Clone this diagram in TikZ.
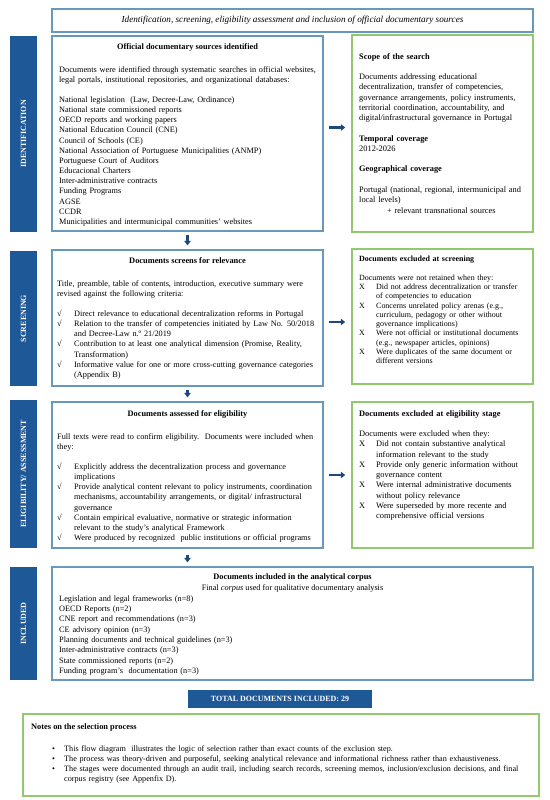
\documentclass[tikz,border=0pt]{standalone}
\usepackage{fontspec}
\setmainfont{Liberation Serif}
\usetikzlibrary{arrows.meta}

\definecolor{barblue}{RGB}{31,88,150}
\definecolor{boxblue}{RGB}{104,152,186}
\definecolor{boxgreen}{RGB}{146,200,110}
\definecolor{arrowblue}{RGB}{31,72,122}

\newcommand{\okmark}{\makebox[17bp][l]{√}}
\newcommand{\nomark}{\makebox[17bp][l]{X}}
\newcommand{\dotmark}{\makebox[12bp][l]{•}}
\newcommand{\hangin}{\hspace*{17bp}}

\tikzset{
  stagebar/.style={fill=barblue, text=white, rotate=90, inner sep=0pt,
    font=\fontsize{8}{9}\selectfont\bfseries},
  mainbox/.style={draw=boxblue, line width=1.3bp, inner sep=0pt},
  sidebox/.style={draw=boxgreen, line width=1.5bp, inner sep=0pt},
  boxhead/.style={inner sep=0pt, font=\fontsize{8.4}{10.2}\selectfont\bfseries},
  boxtext/.style={inner sep=0pt, anchor=north west, align=left, text width=#1,
    font=\fontsize{8.3}{10.2}\selectfont},
  flow/.style={draw=arrowblue, line width=2.2bp,
    -{Triangle[length=4.5bp,width=6.5bp]}},
}

\begin{document}
\begin{tikzpicture}[x=1bp, y=-1bp]
\useasboundingbox (0,0) rectangle (550,800);

\node[mainbox, minimum width=481bp, minimum height=23bp,
  font=\fontsize{9.2}{11}\selectfont\itshape] (title) at (292.5,20.5)
  {Identification, screening, eligibility assessment and inclusion of official documentary sources};

\node[stagebar, minimum width=196bp, minimum height=27bp] (identbar) at (23.5,134) {IDENTIFICATION};
\node[stagebar, minimum width=135bp, minimum height=27bp] (screenbar) at (23.5,318.5) {SCREENING};
\node[stagebar, minimum width=148bp, minimum height=27bp] (eligbar) at (23.5,474) {ELIGIBILITY/ ASSESSMENT};
\node[stagebar, minimum width=113bp, minimum height=27bp] (inclbar) at (23.5,623.5) {INCLUDED};

\node[mainbox, minimum width=271bp, minimum height=195bp] (ident) at (187.5,133.5) {};
\node[mainbox, minimum width=271bp, minimum height=136bp] (screen) at (187.5,318) {};
\node[mainbox, minimum width=271bp, minimum height=146bp] (elig) at (187.5,475) {};
\node[mainbox, minimum width=481bp, minimum height=113bp] (incl) at (292.5,623.5) {};

\node[sidebox, minimum width=181bp, minimum height=197bp] (scope) at (442.5,133.5) {};
\node[sidebox, minimum width=181bp, minimum height=135bp] (screenout) at (442.5,316.5) {};
\node[sidebox, minimum width=181bp, minimum height=146bp] (eligout) at (442.5,475) {};

\node[fill=barblue, text=white, minimum width=184bp, minimum height=17.5bp, inner sep=0pt,
  font=\fontsize{8}{9}\selectfont\bfseries] (total) at (280,699) {TOTAL DOCUMENTS INCLUDED: 29};
\node[sidebox, minimum width=516bp, minimum height=82bp] (notes) at (281,755) {};

\node[boxhead] (identhead) at (187.5,47) {Official documentary sources identified};
\node[boxtext=300bp] (identlist) at (59,66) {%
Documents were identified through systematic searches in official websites,\\
legal portals, institutional repositories, and organizational databases:\\[10.2pt]
National legislation\ \ (Law, Decree-Law, Ordinance)\\
National state commissioned\ reports\\
OECD reports and working papers\\
National Education Council (CNE)\\
Council of Schools (CE)\\
National Association of Portuguese Municipalities (ANMP)\\
Portuguese Court of Auditors\\
Educacional Charters\\
Inter-administrative contracts\\
Funding Programs\\
AGSE\\
CCDR\\
Municipalities and intermunicipal communities’ websites};

\node[boxtext=200bp, font=\fontsize{8.4}{10.3}\selectfont] (scopetext) at (359,53) {%
\textbf{Scope of the search}\\[10.3pt]
Documents addressing educational\\
decentralization, transfer of competencies,\\
governance arrangements, policy instruments,\\
territorial coordination, accountability, and\\
digital/infrastructural governance in Portugal\\[10.3pt]
\textbf{Temporal coverage}\\
2012-2026\\[10.3pt]
\textbf{Geographical coverage}\\[10.3pt]
Portugal (national, regional, intermunicipal and\\
local levels)\\
\hspace*{28bp}+ relevant transnational sources};

\node[boxhead] (screenhead) at (187.5,261) {Documents screens for relevance};
\node[boxtext=300bp] (screenlist) at (57,280) {%
Title, preamble, table of contents, introduction, executive summary were\\
revised against the following criteria:\\[10.2pt]
\okmark Direct relevance to educational decentralization reforms in Portugal\\
\okmark Relation to the transfer of competencies initiated by Law No. 50/2018\\
\hangin and Decree-Law n.º 21/2019\\
\okmark Contribution to at least one analytical dimension (Promise, Reality,\\
\hangin Transformation)\\
\okmark Informative value for one or more cross-cutting governance categories\\
\hangin (Appendix B)};

\node[boxtext=200bp, font=\fontsize{8}{9.3}\selectfont] (screenouttext) at (359,256) {%
\textbf{Documents excluded at screening}\\[9.3pt]
Documents were not retained when they:\\
\nomark Did not address decentralization or transfer\\
\hangin of competencies to education\\
\nomark Concerns unrelated policy arenas (e.g.,\\
\hangin curriculum, pedagogy or other without\\
\hangin governance implications)\\
\nomark Were not official or institutional documents\\
\hangin (e.g., newspaper articles, opinions)\\
\nomark Were duplicates of the same document or\\
\hangin different versions};

\node[boxhead] (elighead) at (187.5,414) {Documents assessed for eligibility};
\node[boxtext=300bp] (eliglist) at (57,433) {%
Full texts were read to confirm eligibility.\ \ Documents were included when\\
they:\\[10.2pt]
\okmark Explicitly address the decentralization process and governance\\
\hangin implications\\
\okmark Provide analytical content relevant to policy instruments, coordination\\
\hangin mechanisms, accountability arrangements, or digital/ infrastructural\\
\hangin governance\\
\okmark Contain empirical evaluative, normative or strategic information\\
\hangin relevant to the study’s analytical Framework\\
\okmark Were produced by recognized\ \ public institutions or official programs};

\node[boxtext=200bp, font=\fontsize{8.4}{10.3}\selectfont] (eligouttext) at (359,410) {%
\textbf{Documents excluded at eligibility stage}\\[10.3pt]
Documents were excluded when they:\\
\nomark Did not contain substantive analytical\\
\hangin information relevant to the study\\
\nomark Provide only generic information without\\
\hangin governance content\\
\nomark Were internal administrative documents\\
\hangin without policy relevance\\
\nomark Were superseded by more recente and\\
\hangin comprehensive official versions};

\node[boxhead] (inclhead) at (292.5,577) {Documents included in the analytical corpus};
\node[inner sep=0pt, font=\fontsize{8.3}{10.2}\selectfont] (inclsub) at (292.5,588)
  {Final \textit{corpus} used for qualitative documentary analysis};
\node[boxtext=300bp, font=\fontsize{8.3}{10.4}\selectfont] (incllist) at (59,595) {%
Legislation and legal frameworks (n=8)\\
OECD Reports (n=2)\\
CNE report and recommendations (n=3)\\
CE advisory opinion (n=3)\\
Planning documents and technical guidelines (n=3)\\
Inter-administrative contracts (n=3)\\
State commissioned reports (n=2)\\
Funding program’s\ \ documentation (n=3)};

\node[boxhead, anchor=west] (noteshead) at (31,727) {Notes on the selection process};
\node[boxtext=500bp, font=\fontsize{8.2}{10}\selectfont] (noteslist) at (52,746) {%
\dotmark This flow diagram\ \ illustrates the logic of selection rather than exact counts of the exclusion step.\\
\dotmark The process was theory-driven and purposeful, seeking analytical relevance and informational richness rather than exhaustiveness.\\
\dotmark The stages were documented through an audit trail, including search records, screening memos, inclusion/exclusion decisions, and final\\
\hspace*{12bp}corpus registry (see Appenfix D).};

\draw[flow, shorten <=3bp, shorten >=4bp] (ident.south) -- (ident.south |- screen.north);
\draw[flow, shorten <=3bp, shorten >=4bp] (screen.south) -- (screen.south |- elig.north);
\draw[flow, shorten <=6bp, shorten >=4bp] (elig.south) -- (elig.south |- incl.north);

\draw[flow, shorten <=5bp, shorten >=6bp] ([yshift=6bp]ident.east) -- ([yshift=6bp]ident.east -| scope.west);
\draw[flow, shorten <=5bp, shorten >=6bp] ([yshift=-4bp]screen.east) -- ([yshift=-4bp]screen.east -| screenout.west);
\draw[flow, shorten <=5bp, shorten >=6bp] (elig.east) -- (elig.east -| eligout.west);

\end{tikzpicture}
\end{document}
